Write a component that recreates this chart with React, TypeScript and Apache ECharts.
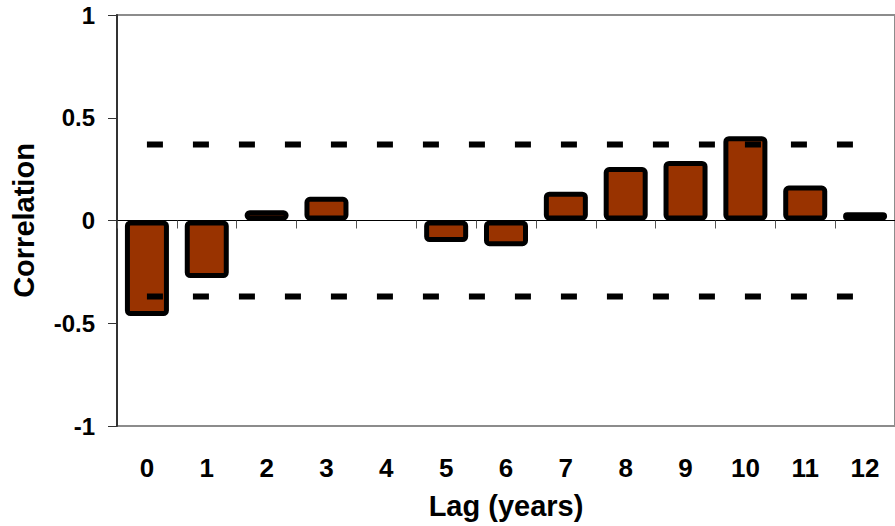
import React, { useEffect, useRef } from "react";
import * as echarts from "echarts";

const lags = ["0", "1", "2", "3", "4", "5", "6", "7", "8", "9", "10", "11", "12"];
const correlations = [-0.465, -0.28, 0.05, 0.115, 0, -0.105, -0.125, 0.14, 0.26, 0.29, 0.41, 0.17, 0.04];
const upperBound = [0.37, 0.37, 0.37, 0.37, 0.37, 0.37, 0.37, 0.37, 0.37, 0.37, 0.37, 0.37, 0.37];
const lowerBound = [-0.37, -0.37, -0.37, -0.37, -0.37, -0.37, -0.37, -0.37, -0.37, -0.37, -0.37, -0.37, -0.37];

const FONT = "'Liberation Sans', Arial, sans-serif";

export default function App() {
  const ref = useRef<HTMLDivElement>(null);
  useEffect(() => {
    if (!ref.current) return;
    const chart = echarts.init(ref.current, null, { renderer: "svg" });
    const boundStyle = {
      color: "#000",
      width: 6,
      type: [16, 30] as any,
      cap: "butt" as any,
    };
    const barData = correlations.map((v) =>
      v === 0 ? { value: v, itemStyle: { borderWidth: 0 } } : { value: v }
    );
    chart.setOption({
      animation: false,
      backgroundColor: "#fff",
      grid: {
        left: 117,
        top: 15,
        width: 783,
        height: 411,
        show: true,
        borderColor: "#8c8c8c",
        borderWidth: 2,
        backgroundColor: "transparent",
      },
      xAxis: [
        {
          type: "category",
          data: lags,
          position: "bottom",
          axisLine: { show: true, onZero: true, lineStyle: { color: "#000", width: 1 } },
          axisTick: { show: true, length: 8, interval: 0, lineStyle: { color: "#555", width: 1 } },
          axisLabel: { show: false },
          splitLine: { show: false },
        },
        {
          type: "category",
          data: lags,
          position: "bottom",
          axisLine: { show: false, onZero: false },
          axisTick: { show: false },
          axisLabel: {
            show: true,
            interval: 0,
            margin: 29,
            fontFamily: FONT,
            fontWeight: "bold",
            fontSize: 26,
            color: "#000",
          },
          splitLine: { show: false },
          name: "Lag (years)",
          nameLocation: "middle",
          nameGap: 65,
          nameTextStyle: { fontFamily: FONT, fontWeight: "bold", fontSize: 29, color: "#000" },
        },
      ],
      yAxis: {
        type: "value",
        min: -1,
        max: 1,
        interval: 0.5,
        axisLine: { show: true, lineStyle: { color: "#333", width: 2 } },
        axisTick: { show: true, length: 9, lineStyle: { color: "#333", width: 1 } },
        axisLabel: {
          margin: 22,
          fontFamily: FONT,
          fontWeight: "bold",
          fontSize: 24,
          color: "#000",
        },
        splitLine: { show: false },
        name: "Correlation",
        nameLocation: "middle",
        nameRotate: 90,
        nameGap: 79,
        nameTextStyle: { fontFamily: FONT, fontWeight: "bold", fontSize: 29, color: "#000" },
      },
      series: [
        {
          type: "bar",
          xAxisIndex: 0,
          data: barData,
          barWidth: 44,
          itemStyle: {
            color: "#993300",
            borderColor: "#000",
            borderWidth: 5,
            borderJoin: "round",
            borderRadius: 3,
          },
          z: 2,
        },
        {
          type: "line",
          xAxisIndex: 0,
          data: upperBound,
          symbol: "none",
          lineStyle: boundStyle,
          z: 3,
        },
        {
          type: "line",
          xAxisIndex: 0,
          data: lowerBound,
          symbol: "none",
          lineStyle: boundStyle,
          z: 3,
        },
      ],
    });
    return () => chart.dispose();
  }, []);
  return (
    <div
      ref={ref}
      style={{ position: "fixed", left: 0, top: 0, width: 895, height: 526, background: "#fff" }}
    />
  );
}
